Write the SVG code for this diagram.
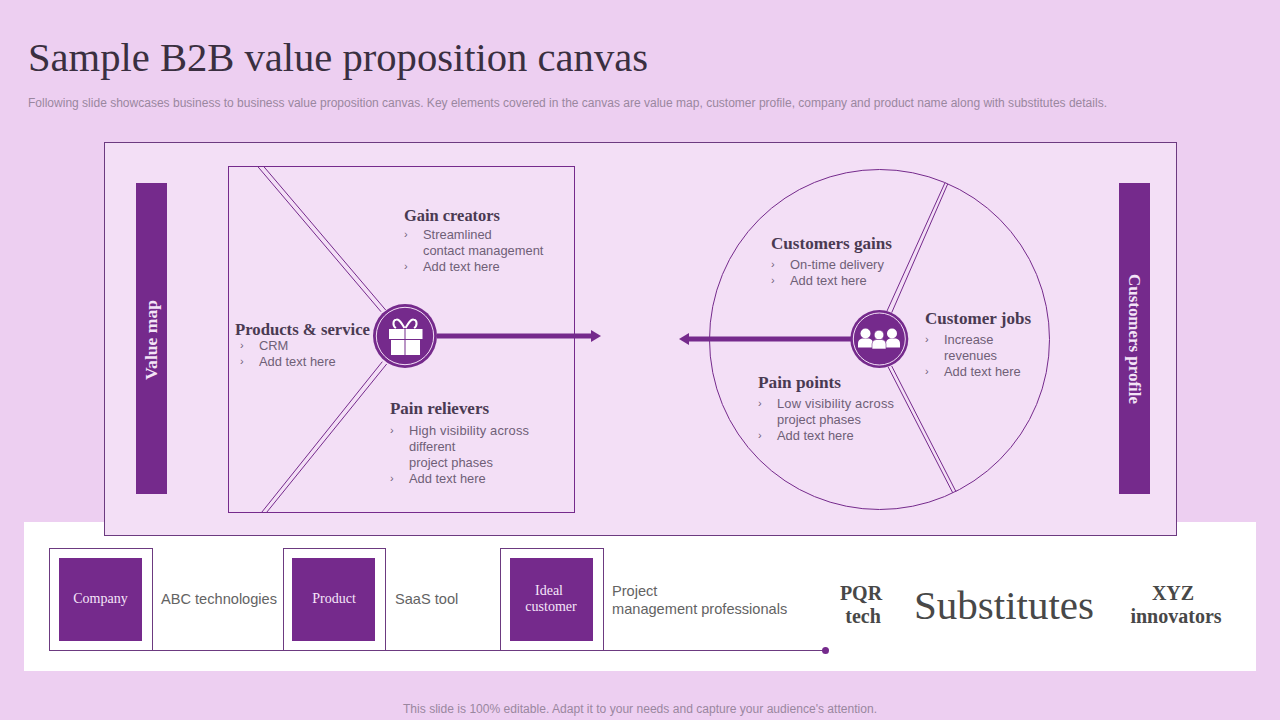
<svg xmlns="http://www.w3.org/2000/svg" width="1280" height="720" viewBox="0 0 1280 720">
<style>
.h{font-family:"Liberation Serif",serif;font-weight:700;font-size:16px;fill:#4a3a52}
.b{font-family:"Liberation Sans",Arial,sans-serif;font-size:12.9px;fill:#6f6077}
.c{font-family:"Liberation Sans",Arial,sans-serif;font-size:11px;fill:#6f6077}
.l{fill:none;stroke:#752a8c;stroke-width:1}
.box{fill:#fff;stroke:#6c3a80;stroke-width:1}
.p{fill:#752a8c}
.w{font-family:"Liberation Serif",serif;font-size:14px;fill:#f6e6fa;text-anchor:middle}
.v{font-family:"Liberation Serif",serif;font-weight:700;font-size:17px;fill:#f3e4f7;text-anchor:middle}
.t{font-family:"Liberation Sans",Arial,sans-serif;font-size:14.6px;fill:#636363}
.s{font-family:"Liberation Serif",serif;font-weight:700;font-size:20px;fill:#484848;text-anchor:middle}
.ic{fill:#fff}
</style>
<defs>
<marker id="ah" markerUnits="userSpaceOnUse" markerWidth="10" markerHeight="12" refX="0" refY="6" orient="auto"><path d="M0 0L10 6L0 12Z" fill="#752a8c"/></marker>
</defs>
<rect width="1280" height="720" fill="#edcff1"/>
<text id="title" x="28" y="71" font-family="Liberation Serif,serif" font-size="39" fill="#3a2f40" textLength="620" lengthAdjust="spacingAndGlyphs">Sample B2B value proposition canvas</text>
<text id="subtitle" x="28" y="107" font-family="Liberation Sans,sans-serif" font-size="12" fill="#9a879f" textLength="1079" lengthAdjust="spacingAndGlyphs">Following slide showcases business to business value proposition canvas. Key elements covered in the canvas are value map, customer profile, company and product name along with substitutes details.</text>
<rect x="24" y="522" width="1232" height="149" fill="#fff"/>
<rect id="panel" x="104.5" y="142.5" width="1072" height="393" fill="#f3dff6" stroke="#6c3a80" stroke-width="1"/>
<g id="value-map"><rect x="136" y="183" width="31" height="311" class="p"/><text class="v" transform="translate(157 340) rotate(-90)" textLength="80" lengthAdjust="spacingAndGlyphs">Value map</text></g>
<g id="customers-profile"><rect x="1119" y="183" width="31" height="311" class="p"/><text class="v" transform="translate(1129 339) rotate(90)" textLength="130" lengthAdjust="spacingAndGlyphs">Customers profile</text></g>
<g id="value-square"><rect x="228.5" y="166.5" width="346" height="346" class="l"/></g>
<g id="customer-circle"><circle cx="879.5" cy="339.5" r="170" class="l"/></g>
<g id="connectors">
<path class="l" d="M257.3 166L381 311.7M263.3 166L385.7 310M261.7 512.3L382.3 361.7M266.7 512.3L386.7 364"/>
<path class="l" d="M945 182.7L886.7 311.7M947.7 184L891.7 312.7M888 366.7L952.7 492.7M891.7 366L956 491.7"/>
<line x1="437" y1="336" x2="591" y2="336" stroke="#752a8c" stroke-width="5" marker-end="url(#ah)"/>
<line x1="851" y1="339" x2="689" y2="339" stroke="#752a8c" stroke-width="5" marker-end="url(#ah)"/>
<line x1="49" y1="650.5" x2="825" y2="650.5" stroke="#6c3a80" stroke-width="1"/>
<circle cx="825.5" cy="650.5" r="3.5" class="p"/>
</g>
<g id="gift-icon">
<circle cx="405" cy="336" r="32" class="p"/><circle cx="405" cy="336" r="28.7" fill="none" stroke="#f3dff6" stroke-width="1"/>
<path d="M404.5 328C401 322 399 319 396.5 319.5C392.5 320 392.5 326 396 328M405.5 328C409 322 411 319 413.5 319.5C417.5 320 417.5 326 414 328" fill="none" stroke="#fff" stroke-width="2"/>
<rect x="389" y="329" width="15.5" height="10" class="ic"/><rect x="405.5" y="329" width="17" height="10" class="ic"/>
<rect x="391" y="340" width="13.5" height="15" class="ic"/><rect x="405.5" y="340" width="14.5" height="15" class="ic"/>
</g>
<g id="people-icon">
<circle cx="879.3" cy="339" r="29" class="p"/><circle cx="879.3" cy="339" r="26" fill="none" stroke="#f3dff6" stroke-width="1"/>
<g class="ic"><circle cx="865.5" cy="333.5" r="5"/><circle cx="892" cy="333.5" r="5"/>
<path d="M858 347.5v-4q0-4 4-5h7q4 1 4 5v4z"/><path d="M886 347.5v-4q0-4 4-5h6q4 1 4 5v4z"/>
<circle cx="879" cy="335" r="4.8" stroke="#752a8c" stroke-width=".6"/><path d="M872 349v-5q0-4 4-4.5h6q4 .5 4 4.5v5z" stroke="#752a8c" stroke-width=".6"/></g>
</g>
<g id="gain-creators"><text class="h" x="404" y="221" textLength="96" lengthAdjust="spacingAndGlyphs">Gain creators</text><text class="c" x="404" y="238">›</text><text class="b" x="423" y="239">Streamlined</text><text class="b" x="423" y="255">contact management</text><text class="c" x="404" y="270">›</text><text class="b" x="423" y="271">Add text here</text></g>
<g id="products-service"><text class="h" x="235" y="335" textLength="135" lengthAdjust="spacingAndGlyphs">Products &amp; service</text><text class="c" x="240" y="349">›</text><text class="b" x="259" y="350">CRM</text><text class="c" x="240" y="365">›</text><text class="b" x="259" y="366">Add text here</text></g>
<g id="pain-relievers"><text class="h" x="390" y="414" textLength="99" lengthAdjust="spacingAndGlyphs">Pain relievers</text><text class="c" x="390" y="434">›</text><text class="b" x="409" y="435" textLength="120">High visibility across</text><text class="b" x="409" y="451">different</text><text class="b" x="409" y="467">project phases</text><text class="c" x="390" y="482">›</text><text class="b" x="409" y="483">Add text here</text></g>
<g id="customers-gains"><text class="h" x="771" y="249" textLength="121" lengthAdjust="spacingAndGlyphs">Customers gains</text><text class="c" x="771" y="268">›</text><text class="b" x="790" y="269">On-time delivery</text><text class="c" x="771" y="284">›</text><text class="b" x="790" y="285">Add text here</text></g>
<g id="customer-jobs"><text class="h" x="925" y="324" textLength="106" lengthAdjust="spacingAndGlyphs">Customer jobs</text><text class="c" x="925" y="343">›</text><text class="b" x="944" y="344">Increase</text><text class="b" x="944" y="360">revenues</text><text class="c" x="925" y="375">›</text><text class="b" x="944" y="376">Add text here</text></g>
<g id="pain-points"><text class="h" x="758" y="388" textLength="83" lengthAdjust="spacingAndGlyphs">Pain points</text><text class="c" x="758" y="407">›</text><text class="b" x="777" y="408" textLength="117">Low visibility across</text><text class="b" x="777" y="424">project phases</text><text class="c" x="758" y="439">›</text><text class="b" x="777" y="440">Add text here</text></g>
<g id="company"><rect x="49.5" y="548.5" width="103" height="102" class="box"/><rect x="59" y="558" width="83" height="83" class="p"/><text class="w" x="100.5" y="603">Company</text><text class="t" x="161" y="604">ABC technologies</text></g>
<g id="product"><rect x="283.5" y="548.5" width="102" height="102" class="box"/><rect x="292" y="558" width="83" height="83" class="p"/><text class="w" x="334" y="603">Product</text><text class="t" x="395" y="604">SaaS tool</text></g>
<g id="ideal-customer"><rect x="500.5" y="548.5" width="103" height="102" class="box"/><rect x="510" y="558" width="83" height="83" class="p"/><text class="w" x="549" y="595">Ideal</text><text class="w" x="551" y="611">customer</text><text class="t" x="612" y="596">Project</text><text class="t" x="612" y="614">management professionals</text></g>
<g id="substitutes"><text x="1004" y="619" text-anchor="middle" font-family="Liberation Serif,serif" font-size="40" fill="#484848" textLength="180" lengthAdjust="spacingAndGlyphs">Substitutes</text><text class="s" x="861" y="600">PQR</text><text class="s" x="863" y="623">tech</text><text class="s" x="1173" y="600">XYZ</text><text class="s" x="1176" y="623">innovators</text></g>
<text id="footer" x="640" y="713" text-anchor="middle" font-family="Liberation Sans,sans-serif" font-size="12" fill="#9a879f" textLength="474" lengthAdjust="spacingAndGlyphs">This slide is 100% editable. Adapt it to your needs and capture your audience's attention.</text>
</svg>
